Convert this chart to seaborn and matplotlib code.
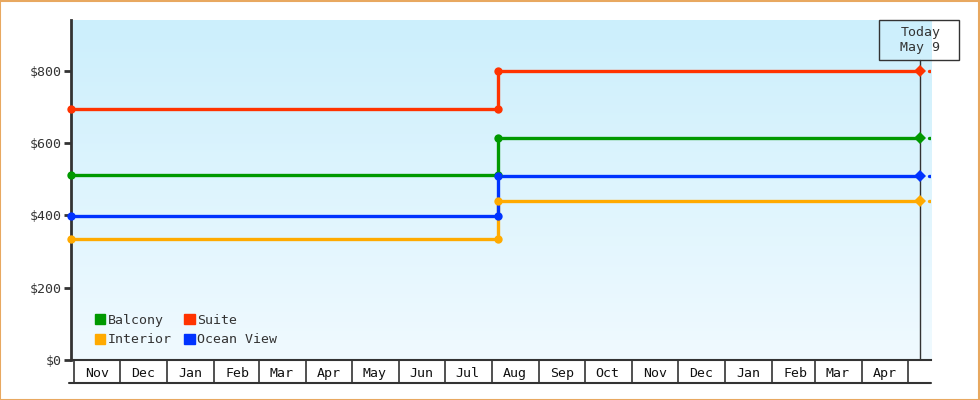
import numpy as np
import pandas as pd
import matplotlib
matplotlib.use("Agg")
import matplotlib.pyplot as plt
import matplotlib.dates as mdates
from matplotlib.patches import Rectangle
import seaborn as sns

# ---- data ----
series_names = ["Balcony", "Interior", "Suite", "Ocean View"]
series_colors = ["#009900", "#ffaa00", "#ff3300", "#0033ff"]
change_dates = ["2023-10-30", "2024-08-05", "2024-08-05", "2025-05-09"]
balcony = [512, 512, 615, 615]
interior = [335, 335, 440, 440]
suite = [695, 695, 800, 800]
ocean_view = [399, 399, 509, 509]
tail_dates = ["2025-05-15", "2025-05-16"]
today_date = "2025-05-09"
today_label = "Today\nMay 9"
x_start, x_end = "2023-10-30", "2025-05-16"
month_starts = pd.date_range("2023-11-01", "2025-05-01", freq="MS")
month_label_pos = pd.date_range("2023-11-01", "2025-04-01", freq="MS") + pd.Timedelta(days=15)
y_ticks = [0, 200, 400, 600, 800]
y_max = 940

values = {"Balcony": balcony, "Interior": interior, "Suite": suite, "Ocean View": ocean_view}

sns.set_style("white")
plt.rcParams['font.family'] = ['DejaVu Sans Mono', 'DejaVu Sans']
FS = 9.5
fig = plt.figure(figsize=(9.8, 4.0), dpi=100)
ax = fig.add_axes([71/980, 40/400, 860/980, 340/400])

# gradient background
grad = np.linspace(0, 1, 256).reshape(-1, 1)
top = np.array([204, 239, 252]) / 255
bot = np.array([240, 250, 255]) / 255
img = top[None, None, :] * (1 - grad[..., None]) + bot[None, None, :] * grad[..., None]
ax.imshow(img, extent=[0, 1, 0, 1], transform=ax.transAxes, aspect='auto', zorder=0)

dts = pd.to_datetime(change_dates)
for name, col in zip(series_names, series_colors):
    v = values[name]
    sns.lineplot(x=dts, y=v, ax=ax, color=col, lw=2.4, sort=False, estimator=None, zorder=3)
    ax.plot(dts[:3], v[:3], marker='o', color=col, markersize=6, markeredgewidth=0,
            ls='none', zorder=4, clip_on=False)
    ax.plot(dts[3:], v[3:], marker='D', color=col, markersize=6, markeredgewidth=0, ls='none', zorder=4)
    sns.lineplot(x=pd.to_datetime(tail_dates), y=[v[-1]] * 2, ax=ax, color=col, lw=2.4,
                 sort=False, estimator=None, zorder=3)

ax.set_xlim(pd.Timestamp(x_start), pd.Timestamp(x_end))
ax.set_ylim(0, y_max)
ax.set_yticks(y_ticks)
ax.set_yticklabels([f"${t}" for t in y_ticks])
ax.set_xlabel("")
ax.set_ylabel("")

for s in ["top", "right"]:
    ax.spines[s].set_visible(False)
ax.spines["left"].set_color("#333333")
ax.spines["left"].set_linewidth(2)
ax.spines["bottom"].set_color("#333333")
ax.spines["bottom"].set_linewidth(1.5)

ax.tick_params(axis='y', left=True, direction='out', length=5, width=2, color='#333333',
               labelsize=FS, labelcolor='#333333', pad=2)
ax.set_xticks(month_starts)
ax.set_xticklabels([])
ax.set_xticks(month_label_pos, minor=True)
ax.xaxis.set_minor_formatter(mdates.DateFormatter('%b'))
ax.tick_params(axis='x', which='major', bottom=True, direction='out', length=17, width=1.2, color='#333333')
ax.tick_params(axis='x', which='minor', bottom=True, length=0, labelsize=FS, labelcolor='#111111', pad=5)

# bottom line of the month cells
ax.plot([-0.002, 1], [-0.067, -0.067], transform=ax.transAxes, color='#333333', lw=1.5, clip_on=False)

# today marker
ax.axvline(pd.Timestamp(today_date), ymin=0, ymax=(360 - 60) / 340, color='#333333', lw=1, zorder=2)
ax.text(pd.Timestamp(today_date), (360 - 40) / 340, today_label, transform=ax.get_xaxis_transform(),
        ha='center', va='center', fontsize=FS, color='#333333', linespacing=1.25, clip_on=False)
fig.add_artist(Rectangle((879/980, 340/400), 80/980, 40/400, transform=fig.transFigure,
                         fill=False, ec='#333333', lw=1))

# legend
handles = [Rectangle((0, 0), 1, 1, color=c) for c in series_colors]
leg = ax.legend(handles, series_names, ncol=2, loc='lower left', bbox_to_anchor=(0.014, 0.005),
                frameon=False, fontsize=FS, handlelength=0.8, handleheight=0.8, handletextpad=0.2,
                columnspacing=0.9, labelspacing=0.5)
for t in leg.get_texts():
    t.set_color('#333333')

# figure border
fig.add_artist(Rectangle((0.0005, 0.001), 0.998, 0.997, transform=fig.transFigure,
                         fill=False, ec='#e8a860', lw=1.5))

fig.savefig("out.png", dpi=100)
